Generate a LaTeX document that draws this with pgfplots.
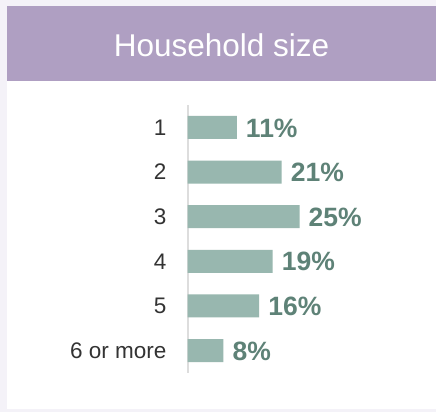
\documentclass[border=0pt]{standalone}
\usepackage{pgfplots}
\pgfplotsset{compat=1.18}
\usepackage{fontspec}
\setmainfont{Liberation Sans}
\definecolor{bg}{HTML}{F4F2F8}
\definecolor{hdr}{HTML}{AF9FC2}
\definecolor{barc}{HTML}{98B7AF}
\definecolor{lab}{HTML}{5E8277}
\definecolor{cat}{HTML}{333333}
\definecolor{axl}{HTML}{DDDDDD}
\begin{document}
\begin{tikzpicture}[x=1pt,y=1pt]
\fill[bg] (0,0) rectangle (436,412);
\fill[white] (7,3) rectangle (436,331);
\fill[hdr] (7,331) rectangle (436,406);
\node[text=white, font=\fontsize{31.5}{36}\selectfont] at (221.5,366.5) {Household size};
\begin{axis}[at={(187.5pt,39.2pt)}, anchor=south west, scale only axis,
  width=224pt, height=267.6pt, xmin=0, xmax=50, ymin=-0.5, ymax=5.5,
  y dir=reverse, xbar, bar width=23pt, bar shift=0pt,
  axis x line=none, axis y line=left,
  y axis line style={-, draw=axl, line width=2pt},
  ytick={0,...,5}, yticklabels={1,2,3,4,5,6 or more},
  major tick length=0pt,
  /pgf/number format/assume math mode=true,
  yticklabel style={font=\fontsize{22.5}{26}\selectfont, text=cat, inner sep=0pt, anchor=east, xshift=-21pt},
  point meta=x,
  nodes near coords={\pgfmathprintnumber{\pgfplotspointmeta}\%},
  nodes near coords style={font=\bfseries\fontsize{26.5}{30}\selectfont, text=lab, anchor=west, inner sep=0pt, xshift=9pt, yshift=-0.5pt},
  clip=false]
\addplot[fill=barc, draw=none] coordinates {(11,0) (21,1) (25,2) (19,3) (16,4) (8,5)};
\end{axis}
\end{tikzpicture}
\end{document}
